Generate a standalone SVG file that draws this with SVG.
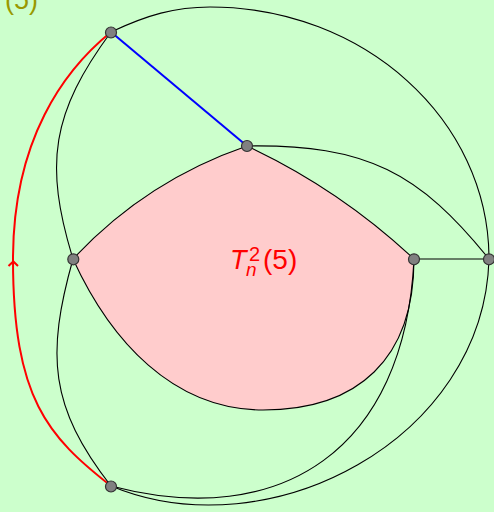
<svg xmlns="http://www.w3.org/2000/svg" width="494" height="512" viewBox="0 0 494 512">
<style>
.e{fill:none;stroke:#000;stroke-width:1.1}
.red{fill:none;stroke:#ff0000;stroke-width:2}
.blue{fill:none;stroke:#0000ff;stroke-width:2}
.n{fill:#808080;stroke:#333;stroke-width:1.2}
.lbl{font-family:"Liberation Sans",Arial,sans-serif;fill:#ff0000}
</style>
<rect x="0" y="0" width="494" height="512" fill="#ccffcc"/>
<g id="region">
<path d="M73,259 Q145.8,180.7 247,146 Q339.5,189.2 414,259 C414,359 358,410 263,410 C173,410 110.5,340.8 73,259 Z" fill="#ffcccc" stroke="#000" stroke-width="1.1"/>
</g>
<g id="connectors">
<path class="blue" d="M111,32 L247,146"/>
<path class="red" d="M111,32 C64.4,69.8 13,139 13,259 C13,399 48.1,436.6 111,486"/>
<path class="red" stroke-width="1.5" d="M8.5,266 L13.3,261.5 L18,266"/>
<path class="e" d="M111,32 C51.7,112.5 43.7,163.4 73,259"/>
<path class="e" d="M111,32 C147,15 175,7 210,7 C364,7 489,119.8 489,259"/>
<path class="e" d="M247,146 C367,144 419.7,173.2 489,259"/>
<path class="e" d="M414,259 L489,259"/>
<path class="e" d="M73,259 C46,355 49.5,407 111,486"/>
<path class="e" d="M111,486 C282,531 405,449 414,259"/>
<path class="e" d="M111,486 C270,552 484,439 489,259"/>
</g>
<g id="nodes">
<g id="A"><circle class="n" cx="111" cy="32.5" r="5.5"/></g>
<g id="B"><circle class="n" cx="247" cy="146" r="5.5"/></g>
<g id="C"><circle class="n" cx="73.3" cy="259.3" r="5.5"/></g>
<g id="D"><circle class="n" cx="414" cy="259.3" r="5.5"/></g>
<g id="E"><circle class="n" cx="489" cy="259.3" r="5.5"/></g>
<g id="F"><circle class="n" cx="111" cy="486.5" r="5.5"/></g>
</g>
<g id="labels">
<text class="lbl" x="230" y="269" font-size="27" font-style="italic">T</text>
<text class="lbl" x="246" y="276" font-size="19" font-style="italic">n</text>
<text class="lbl" x="249" y="261" font-size="20">2</text>
<text class="lbl" x="263" y="269" font-size="28">(5)</text>
<text x="5" y="9" font-size="27" font-family="Liberation Sans, Arial, sans-serif" fill="#999900">(5)</text>
</g>
</svg>
